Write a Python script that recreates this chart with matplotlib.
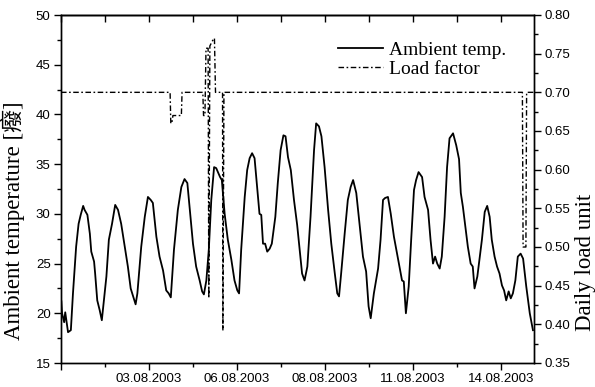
import matplotlib.pyplot as plt
from matplotlib.ticker import MultipleLocator

plt.rcParams['font.family'] = ['Liberation Sans', 'DejaVu Sans']

# time axis in days from the start of the record (31.07.2003 12:00)
temp_day = [0.01, 0.03, 0.09, 0.12, 0.20, 0.28, 0.34, 0.43, 0.50, 0.56, 0.63, 0.67, 0.75, 0.82, 0.86,
            0.94, 0.97, 1.03, 1.10, 1.16, 1.22, 1.29, 1.36, 1.45, 1.54, 1.62, 1.71, 1.81, 1.90, 1.98,
            2.05, 2.12, 2.17, 2.28, 2.38, 2.47, 2.55, 2.61, 2.71, 2.80, 2.90, 2.99, 3.06, 3.12, 3.21,
            3.32, 3.42, 3.51, 3.59, 3.66, 3.75, 3.84, 3.94, 4.01, 4.06, 4.13, 4.20, 4.27, 4.35, 4.41,
            4.52, 4.57, 4.65, 4.74, 4.84, 4.93, 5.01, 5.06, 5.12, 5.22, 5.29, 5.36, 5.43, 5.50, 5.58,
            5.64, 5.69, 5.74, 5.80, 5.86, 5.93, 5.99, 6.09, 6.16, 6.24, 6.32, 6.38, 6.45, 6.53, 6.62,
            6.71, 6.78, 6.85, 6.92, 7.00, 7.09, 7.19, 7.25, 7.33, 7.40, 7.49, 7.59, 7.68, 7.78, 7.85,
            7.90, 7.96, 8.06, 8.15, 8.23, 8.30, 8.39, 8.49, 8.58, 8.67, 8.74, 8.80, 8.89, 9.01, 9.08,
            9.15, 9.21, 9.29, 9.37, 9.46, 9.55, 9.62, 9.69, 9.74, 9.80, 9.88, 9.95, 10.03, 10.09, 10.16,
            10.26, 10.33, 10.43, 10.50, 10.57, 10.63, 10.69, 10.76, 10.82, 10.90, 10.97, 11.04, 11.14,
            11.23, 11.31, 11.36, 11.42, 11.49, 11.56, 11.64, 11.70, 11.75, 11.83, 11.89, 11.96, 12.04,
            12.11, 12.18, 12.24, 12.32, 12.39, 12.46, 12.53, 12.59, 12.65, 12.72, 12.78, 12.84, 12.91,
            12.98, 13.06, 13.13, 13.22, 13.32, 13.41]
temp_c = [21.2, 20.0, 19.1, 20.1, 18.1, 18.3, 22.0, 26.7, 29.0, 29.9, 30.8, 30.4, 29.9, 28.0, 26.2,
          25.2, 24.0, 21.3, 20.3, 19.3, 21.3, 23.7, 27.4, 29.0, 30.9, 30.4, 29.0, 26.7, 24.7, 22.5,
          21.7, 20.9, 22.0, 26.7, 29.7, 31.7, 31.4, 31.1, 27.7, 25.7, 24.3, 22.3, 22.0, 21.6, 26.4,
          30.4, 32.7, 33.5, 33.1, 30.4, 27.0, 24.7, 23.3, 22.2, 21.9, 23.3, 26.4, 31.4, 34.7, 34.6,
          33.7, 33.4, 30.0, 27.4, 25.4, 23.3, 22.3, 22.0, 26.4, 31.7, 34.4, 35.6, 36.1, 35.6, 32.4,
          30.0, 29.9, 27.0, 27.0, 26.2, 26.5, 27.0, 29.7, 33.1, 36.4, 37.9, 37.8, 35.7, 34.4, 31.4,
          28.9, 26.4, 24.0, 23.3, 24.7, 29.7, 36.4, 39.1, 38.8, 37.8, 34.7, 30.4, 27.0, 24.0, 22.0,
          21.7, 24.0, 28.0, 31.4, 32.7, 33.4, 32.1, 28.7, 25.7, 24.2, 20.7, 19.5, 22.0, 24.5, 27.4,
          31.4, 31.6, 31.7, 30.0, 27.7, 26.0, 24.7, 23.3, 23.2, 20.0, 22.7, 27.4, 32.4, 33.4, 34.2,
          33.7, 31.7, 30.4, 27.4, 25.0, 25.7, 25.0, 24.5, 25.7, 29.7, 34.7, 37.6, 38.1,
          36.9, 35.5, 32.1, 30.7, 28.7, 26.7, 25.0, 24.7, 22.5, 23.7, 25.4, 27.4, 30.2,
          30.8, 29.7, 27.4, 25.7, 24.7, 24.0, 22.8, 22.3, 21.3, 22.2, 21.5, 22.0, 23.3,
          25.7, 26.0, 25.5, 22.7, 20.0, 18.3]

load_day = [0.0, 3.10, 3.12, 3.15, 3.18, 3.42, 3.44, 4.03, 4.05, 4.09, 4.12, 4.18, 4.20, 4.23,
            4.32, 4.36, 4.39, 4.59, 4.60, 4.63, 13.11, 13.13, 13.21, 13.23, 13.44]
load_unit = [0.70, 0.70, 0.66, 0.66, 0.67, 0.67, 0.70, 0.70, 0.67, 0.67, 0.757, 0.757, 0.434, 0.76,
             0.768, 0.77, 0.70, 0.70, 0.392, 0.70, 0.70, 0.50, 0.50, 0.70, 0.70]

tick_days = [0, 2.5, 5, 7.5, 10, 12.5]
tick_labels = ['', '03.08.2003', '06.08.2003', '08.08.2003', '11.08.2003', '14.08.2003']

serif = ['Liberation Serif', 'Noto Sans CJK SC']

fig = plt.figure(figsize=(5.95, 3.87), dpi=100)
ax = fig.add_axes([61 / 595, 1 - 363 / 387, 473 / 595, 348 / 387])
ax2 = ax.twinx()

h1, = ax.plot(temp_day, temp_c, color='black', lw=1.3, label='Ambient temp.')
h2, = ax2.plot(load_day, load_unit, color='black', lw=1.0, linestyle=(0, (4, 1.8, 1.2, 1.8)),
               label='Load factor')

ax.set_xlim(0, 13.44)
ax.set_ylim(15, 50)
ax2.set_ylim(0.35, 0.80)

ax.set_xticks(tick_days)
ax.set_xticklabels(tick_labels)
ax.xaxis.set_minor_locator(MultipleLocator(1.25))
ax.yaxis.set_major_locator(MultipleLocator(5))
ax.yaxis.set_minor_locator(MultipleLocator(2.5))
ax2.yaxis.set_major_locator(MultipleLocator(0.05))
ax2.yaxis.set_minor_locator(MultipleLocator(0.025))
ax2.yaxis.set_major_formatter(plt.FormatStrFormatter('%.2f'))

for a in (ax, ax2):
    a.tick_params(which='major', length=5, width=1, labelsize=9.5, pad=2.5)
    a.tick_params(which='minor', length=3, width=1)
    for s in a.spines.values():
        s.set_linewidth(1.0)
ax.tick_params(axis='x', pad=2)

# top axis: same ticks, pointing inward, no labels
top = ax.secondary_xaxis('top')
top.set_xticks(tick_days)
top.xaxis.set_minor_locator(MultipleLocator(1.25))
top.tick_params(which='major', direction='in', length=5, width=1, labeltop=False)
top.tick_params(which='minor', direction='in', length=5, width=1)
top.spines['top'].set_linewidth(1.0)

ax.set_ylabel('Ambient temperature [癈]', family=serif, fontsize=16.5)
ax.yaxis.set_label_coords(-0.076, 0.41)
ax2.set_ylabel('Daily load unit', family=serif, fontsize=16.5)
ax2.yaxis.set_label_coords(1.087, 0.29)

ax.legend(handles=[h1, h2], loc='upper left', bbox_to_anchor=(0.586, 0.924), frameon=False,
          prop={'family': serif, 'size': 14}, handlelength=2.3, handletextpad=0.3,
          labelspacing=0.05, borderpad=0, borderaxespad=0)

fig.savefig('out.png', dpi=100)
